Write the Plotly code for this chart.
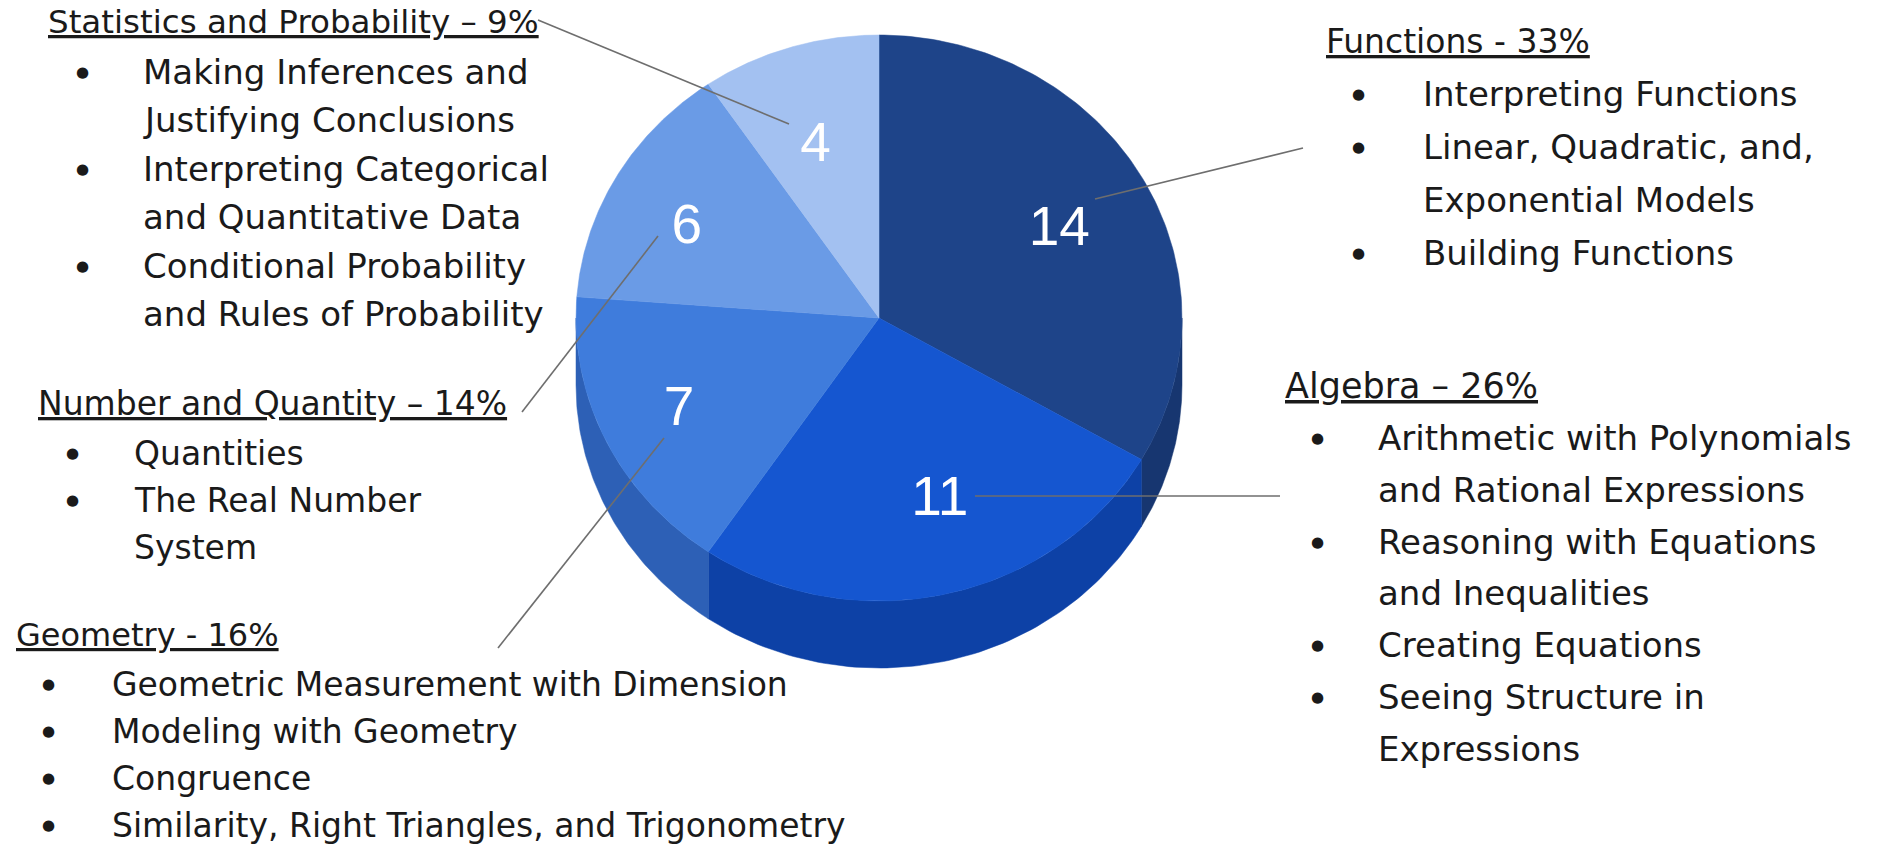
import numpy as np
import plotly.graph_objects as go

# ---------------- data ----------------
categories = ["Functions", "Algebra", "Geometry", "Number and Quantity", "Statistics and Probability"]
values = [14, 11, 7, 6, 4]
headings = ["Functions - 33%", "Algebra – 26%", "Geometry - 16%",
            "Number and Quantity – 14%", "Statistics and Probability – 9%"]

functions_topics = [["Interpreting Functions"],
                    ["Linear, Quadratic, and,", "Exponential Models"],
                    ["Building Functions"]]
algebra_topics = [["Arithmetic with Polynomials", "and Rational Expressions"],
                  ["Reasoning with Equations", "and Inequalities"],
                  ["Creating Equations"],
                  ["Seeing Structure in", "Expressions"]]
geometry_topics = [["Geometric Measurement with Dimension"],
                   ["Modeling with Geometry"],
                   ["Congruence"],
                   ["Similarity, Right Triangles, and Trigonometry"]]
number_topics = [["Quantities"],
                 ["The Real Number", "System"]]
statistics_topics = [["Making Inferences and", "Justifying Conclusions"],
                     ["Interpreting Categorical", "and Quantitative Data"],
                     ["Conditional Probability", "and Rules of Probability"]]
topics = [functions_topics, algebra_topics, geometry_topics, number_topics, statistics_topics]

# ---------------- styling / layout ----------------
W, H = 1880, 846
CX, CY, RX, RY, DEPTH = 879, 318, 303, 283, 67
top_colors = ["#1e4489", "#1556d0", "#3f7cdc", "#6a9be6", "#a3c1f1"]
side_colors = ["#173670", "#0d41a6", "#2d60b6", "#5585cf", "#86a8de"]
label_dx = [-6, 13, -6, -6, 0]
label_dy = [2, -16, 0, 0, 7]

TEXT_FONT = "DejaVu Sans"
TEXT_COLOR = "#1a1a1a"

# block layout: heading x,y ; bullet x ; text x ; first line y ; line spacing ; font sizes
blocks = [
    dict(hx=1324, hy=41, bx=1358, tx=1421, y0=94, dy=53, fs=34, hs=33),      # Functions
    dict(hx=1283, hy=386, bx=1317, tx=1376, y0=438, dy=51.8, fs=34, hs=35),  # Algebra
    dict(hx=14, hy=635, bx=48, tx=110, y0=684, dy=47, fs=33, hs=32),         # Geometry
    dict(hx=36, hy=403, bx=72, tx=132, y0=453, dy=47, fs=33, hs=33),         # Number
    dict(hx=46, hy=22, bx=82, tx=141, y0=72, dy=48.4, fs=34, hs=32.5),       # Statistics
]
# leader lines: from heading side to slice label
leaders = [
    ((1303, 148), (1095, 199)),
    ((1280, 496), (975, 496)),
    ((498, 648), (664, 438)),
    ((522, 412), (658, 236)),
    ((538, 20), (789, 124)),
]

fig = go.Figure()

# ---------------- pie geometry from values ----------------
total = float(sum(values))
bounds = np.concatenate([[0.0], np.cumsum(values) / total * 360.0])


def rim(t_deg, dy=0.0):
    t = np.radians(t_deg)
    return CX + RX * np.sin(t), CY - RY * np.cos(t) + dy


# sides (visible front half: 90..270 deg clockwise from top)
for i, v in enumerate(values):
    a, b = max(bounds[i], 90.0), min(bounds[i + 1], 270.0)
    if b <= a:
        continue
    ts = np.linspace(a, b, 80)
    x1, y1 = rim(ts)
    x2, y2 = rim(ts[::-1], DEPTH)
    fig.add_trace(go.Scatter(x=np.concatenate([x1, x2, x1[:1]]),
                             y=np.concatenate([y1, y2, y1[:1]]),
                             fill="toself", fillcolor=side_colors[i],
                             line=dict(color=side_colors[i], width=0.5),
                             mode="lines", hoverinfo="skip", showlegend=False))

# top faces
for i, v in enumerate(values):
    ts = np.linspace(bounds[i], bounds[i + 1], 120)
    x1, y1 = rim(ts)
    fig.add_trace(go.Scatter(x=np.concatenate([[CX], x1, [CX]]),
                             y=np.concatenate([[CY], y1, [CY]]),
                             fill="toself", fillcolor=top_colors[i],
                             line=dict(color=top_colors[i], width=0.5),
                             mode="lines", name=categories[i],
                             hovertext=f"{categories[i]}: {v}", hoverinfo="text",
                             showlegend=False))

# value labels inside slices
mids = (bounds[:-1] + bounds[1:]) / 2
lx, ly = rim(mids)
lx = CX + (lx - CX) * 0.71 + np.array(label_dx)
ly = CY + (ly - CY) * 0.69 + 9 + np.array(label_dy)
fig.add_trace(go.Scatter(x=lx, y=ly, mode="text", text=[str(v) for v in values],
                         textfont=dict(family="Liberation Sans, Arial", size=55, color="white"),
                         hoverinfo="skip", showlegend=False))

# leader lines
for (p, q) in leaders:
    fig.add_shape(type="line", x0=p[0], y0=p[1], x1=q[0], y1=q[1], xref="x", yref="y",
                  line=dict(color="#6e6e6e", width=1.6))

# text blocks
for k, blk in enumerate(blocks):
    fig.add_annotation(x=blk["hx"], y=blk["hy"], xref="x", yref="y", text=f"<u>{headings[k]}</u>",
                       showarrow=False, xanchor="left", yanchor="middle",
                       font=dict(family=TEXT_FONT, size=blk["hs"], color=TEXT_COLOR))
    y = blk["y0"]
    for item in topics[k]:
        fig.add_annotation(x=blk["bx"], y=y, xref="x", yref="y", text="●",
                           showarrow=False, xanchor="center", yanchor="middle",
                           font=dict(family="DejaVu Sans", size=15, color=TEXT_COLOR))
        for line in item:
            fig.add_annotation(x=blk["tx"], y=y, xref="x", yref="y", text=line,
                               showarrow=False, xanchor="left", yanchor="middle",
                               font=dict(family=TEXT_FONT, size=blk["fs"], color=TEXT_COLOR))
            y += blk["dy"]

fig.update_layout(width=W, height=H, autosize=False,
                  margin=dict(l=0, r=0, t=0, b=0),
                  paper_bgcolor="white", plot_bgcolor="white",
                  xaxis=dict(range=[0, W], visible=False, fixedrange=True),
                  yaxis=dict(range=[H, 0], visible=False, fixedrange=True),
                  showlegend=False)

fig.write_html("out.html")
